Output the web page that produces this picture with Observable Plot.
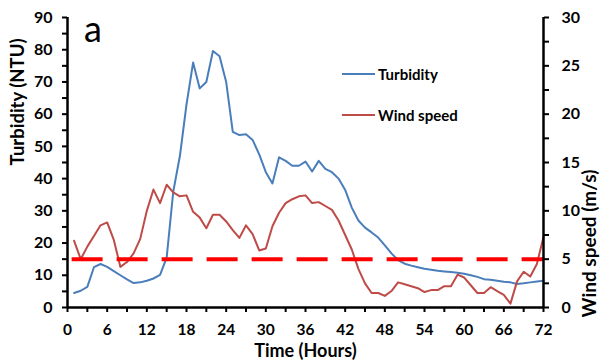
<!DOCTYPE html>
<html><head><meta charset="utf-8">
<script src="https://cdn.jsdelivr.net/npm/d3@7"></script>
<script src="https://cdn.jsdelivr.net/npm/@observablehq/plot@0.6"></script>
<style>
body{margin:0;background:#fff;}
#wrap{position:relative;width:601px;height:361px;font-family:Lato,"Open Sans",sans-serif;}
.leg{position:absolute;left:342px;height:20px;display:flex;align-items:center;font-weight:bold;font-size:15px;color:#000;}
.leg span.sw{display:inline-block;width:33px;height:2px;margin-right:3px;}
#panel{position:absolute;left:84px;top:10px;font-size:36px;line-height:36px;color:#000;}
</style></head><body>
<div id="wrap"></div>
<script>
const hours = [1,2,3,4,5,6,7,8,9,10,11,12,13,14,15,16,17,18,19,20,21,22,23,24,25,26,27,28,29,30,31,32,33,34,35,36,
  37,38,39,40,41,42,43,44,45,46,47,48,49,50,51,52,53,54,55,56,57,58,59,60,61,62,63,64,65,66,67,68,69,70,71,72];
const turbidity = [4.5,5.2,6.4,12.5,13.5,12.6,11.3,10.0,8.7,7.6,7.8,8.3,9.0,10.1,15.5,36,47,63,76,68,70,79.6,78,70,
  54.5,53.5,53.8,52,47.5,42,38.5,46.6,45.5,44,44,45.3,42.2,45.5,43,42,40,36.5,31,27,24.8,23.3,21.7,19.3,16.8,14.7,
  13.6,13,12.5,12,11.7,11.4,11.2,11,10.8,10.5,10,9.5,8.8,8.6,8.3,8.0,7.8,7.3,7.5,7.8,8.1,8.3];
const windSpeed = [6.9,5.0,6.3,7.4,8.5,8.8,7.0,4.2,4.7,5.6,7.1,10.0,12.2,10.8,12.7,11.9,11.5,11.6,9.9,9.3,8.2,9.6,9.6,8.9,
  8.0,7.2,8.5,7.6,5.9,6.1,8.4,9.8,10.8,11.2,11.5,11.6,10.8,10.9,10.5,10.1,9.0,7.5,6.0,4.0,2.5,1.5,1.5,1.2,1.7,2.6,
  2.4,2.2,2.0,1.6,1.8,1.8,2.2,2.2,3.4,3.1,2.3,1.5,1.5,2.1,1.7,1.3,0.4,2.7,3.7,3.2,4.5,7.3];
const threshold = [5];
const xTicks = [0,6,12,18,24,30,36,42,48,54,60,66,72];
const xMinor = [3,9,15,21,27,33,39,45,51,57,63,69];
const leftTicks = [0,10,20,30,40,50,60,70,80,90];
const leftMinor = [5,15,25,35,45,55,65,75,85];
const rightTicks = [0,5,10,15,20,25,30];
const rightMinor = [2.5,7.5,12.5,17.5,22.5,27.5];
const ratio = 3; // turbidity units per m/s (90 / 30)

const blue = "#4a7ebb", red = "#be4b48";
const data = hours.map((h, i) => ({h, t: turbidity[i], w: windSpeed[i]}));
const font = "Lato, 'Open Sans', sans-serif";

const chart = Plot.plot({
  width: 601, height: 361,
  marginTop: 17, marginBottom: 54, marginLeft: 67, marginRight: 58,
  style: {fontFamily: font, fontSize: "16px", fontWeight: "bold", color: "#000", background: "#fff"},
  x: {domain: [0, 72]},
  y: {domain: [0, 90]},
  marks: [
    Plot.line(data, {x: "h", y: "t", stroke: blue, strokeWidth: 2}),
    Plot.line(data, {x: "h", y: d => d.w * ratio, stroke: red, strokeWidth: 2}),
    Plot.ruleY(threshold, {y: d => d * ratio, x1: hours[0] - 0.3, x2: 72, stroke: "#ff0000", strokeWidth: 4, strokeDasharray: "31,14"}),
    Plot.axisX({ticks: xTicks, tickSize: 5, tickPadding: 11, strokeWidth: 2, label: null, fontSize: 15.5, fontWeight: "bold"}),
    Plot.axisX({ticks: xMinor, tickSize: 5, text: null, strokeWidth: 2, label: null}),
    Plot.axisY({anchor: "left", ticks: leftTicks, tickSize: 5, tickPadding: 10, strokeWidth: 2, label: null, fontSize: 16, fontWeight: "bold"}),
    Plot.axisY({anchor: "left", ticks: leftMinor, tickSize: 5, text: null, strokeWidth: 2, label: null}),
    Plot.axisY({anchor: "right", ticks: rightTicks.map(v => v * ratio), tickFormat: d => d / ratio, tickSize: 5, tickPadding: 13, strokeWidth: 2, label: null, fontSize: 16, fontWeight: "bold"}),
    Plot.axisY({anchor: "right", ticks: rightMinor.map(v => v * ratio), tickSize: 5, text: null, strokeWidth: 2, label: null}),
    Plot.ruleX([0, 72], {strokeWidth: 2.5}),
    Plot.ruleY([0], {strokeWidth: 2.5}),
    Plot.text(["Time (Hours)"], {frameAnchor: "bottom", dy: 49, lineAnchor: "bottom", fontSize: 18, fontWeight: "bold"}),
    Plot.text(["Turbidity (NTU)"], {frameAnchor: "left", dx: -49, dy: 3, rotate: -90, fontSize: 18.5, fontWeight: "bold"}),
    Plot.text(["Wind speed (m/s)"], {frameAnchor: "right", dx: 46, dy: 7, rotate: -90, fontSize: 19, fontWeight: "bold"})
  ]
});
const wrap = document.getElementById("wrap");
wrap.appendChild(chart);
const panel = document.createElement("div");
panel.id = "panel"; panel.textContent = "a";
wrap.appendChild(panel);
[["Turbidity", blue, 64], ["Wind speed", red, 105]].forEach(([label, color, top]) => {
  const d = document.createElement("div");
  d.className = "leg"; d.style.top = top + "px";
  const sw = document.createElement("span"); sw.className = "sw"; sw.style.background = color;
  d.appendChild(sw); d.appendChild(document.createTextNode(label));
  wrap.appendChild(d);
});
</script>
</body></html>
